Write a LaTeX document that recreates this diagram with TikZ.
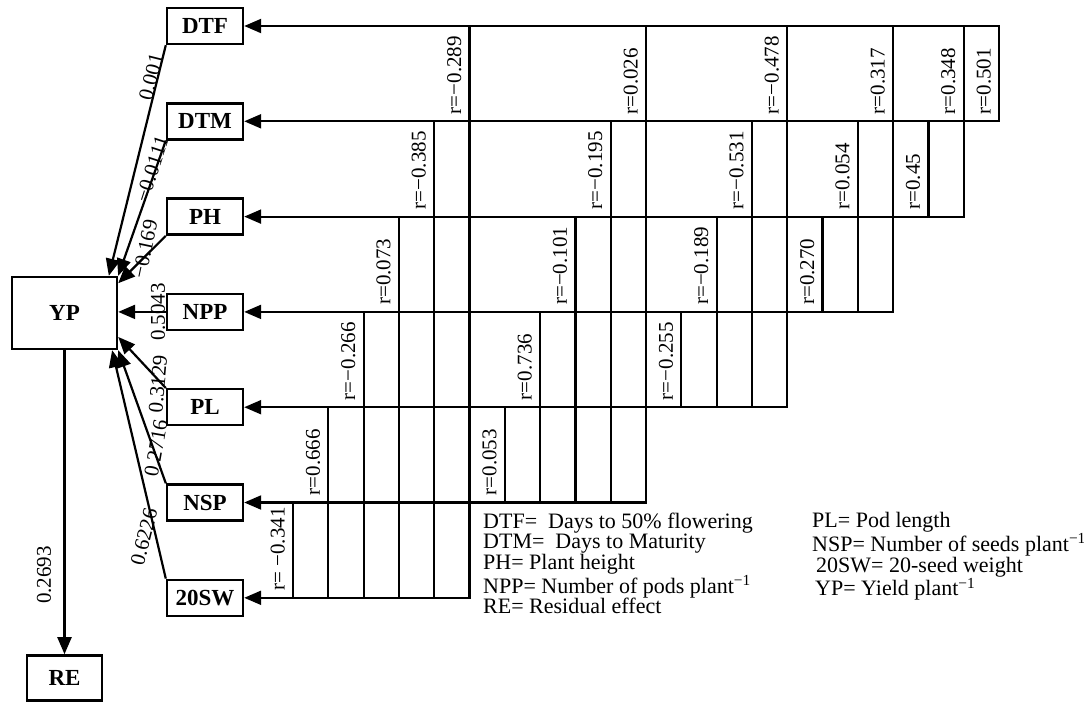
\documentclass[tikz,border=0pt]{standalone}
\usepackage{fontspec}
\setmainfont{Liberation Serif}
\usetikzlibrary{arrows.meta,positioning,calc}
\newcommand\boxfont{\fontsize{23}{23}\selectfont\bfseries}
\newcommand\numfont{\fontsize{21}{21}\selectfont}
\newcommand\keyfont{\fontsize{22}{20.75}\selectfont}

\begin{document}
\begin{tikzpicture}[x=1pt,y=-1pt,
  node distance=56.9pt,
  var/.style={draw,line width=2.4pt,minimum width=76pt,minimum height=36pt,inner sep=0pt,font=\boxfont},
  link/.style={line width=2.2pt,line cap=rect},
  arrow/.style={line width=2.2pt,-{Triangle[length=17pt,width=14pt]}},
  coef/.style={inner sep=0pt,font=\numfont},
  rval/.style={inner sep=0pt,font=\numfont,rotate=90,anchor=south west},
  key/.style={inner sep=0pt,align=left,anchor=north west,font=\keyfont}
]
\useasboundingbox (0,0) rectangle (1084,702);
% characters
\node[var] (DTF) at (205,26) {DTF};
\node[var,below=of DTF] (DTM) {DTM};
\node[var,below=of DTM] (PH) {PH};
\node[var,below=of PH] (NPP) {NPP};
\node[var,below=of NPP] (PL) {PL};
\node[var,below=of PL] (NSP) {NSP};
\node[var,below=of NSP] (SW) {20SW};
\node[var,minimum width=105pt,minimum height=72pt] (YP) at (64.5,313) {YP};
\node[var,minimum width=75pt,minimum height=45pt,below=304pt of YP] (RE) {RE};

% direct effects
\draw[arrow] (DTF.south west) -- (YP.40);
\draw[arrow] (DTM.south west) -- (YP.north east);
\draw[arrow] (PH.south west) -- (YP.29);
\draw[arrow] (NPP.west) -- (NPP.west -| YP.east);
\draw[arrow] (PL.north west) -- (YP.-24);
\draw[arrow] (NSP.north west) -- (YP.south east);
\draw[arrow] (SW.north west) -- (YP.-38);
\draw[arrow] (YP.south) -- (RE.north);
\node[coef,rotate=76] (pDTF) at (151,77) {0.001};
\node[coef,rotate=72] (pDTM) at (152,169) {−0.0111};
\node[coef,rotate=78] (pPH) at (145,249) {−0.169};
\node[coef,rotate=90] (pNPP) at (158,312) {0.5043};
\node[coef,rotate=85] (pPL) at (158,384) {0.3129};
\node[coef,rotate=80] (pNSP) at (156,448) {0.2716};
\node[coef,rotate=76] (pSW) at (144,537) {0.6226};
\node[coef,rotate=90] (pRE) at (44,575) {0.2693};

% correlations
\foreach \col in {0,...,20}
  \coordinate (c\col) at ({293+35.3*\col},0);
\foreach \v/\col in {DTF/20,DTM/20,PH/19,NPP/17,PL/14,NSP/10,SW/5}
  \draw[arrow] (\v -| c\col) -- (\v.east);
\foreach \col/\src/\tgt/\nxt/\val in {
  0/NSP/SW/SW/{r= −0.341}, 1/PL/SW/NSP/{r=0.666}, 2/NPP/SW/PL/{r=−0.266},
  3/PH/SW/NPP/{r=0.073}, 4/DTM/SW/PH/{r=−0.385}, 5/DTF/SW/DTM/{r=−0.289},
  6/PL/NSP/NSP/{r=0.053}, 7/NPP/NSP/PL/{r=0.736}, 8/PH/NSP/NPP/{r=−0.101},
  9/DTM/NSP/PH/{r=−0.195}, 10/DTF/NSP/DTM/{r=0.026},
  11/NPP/PL/PL/{r=−0.255}, 12/PH/PL/NPP/{r=−0.189}, 13/DTM/PL/PH/{r=−0.531},
  14/DTF/PL/DTM/{r=−0.478},
  15/PH/NPP/NPP/{r=0.270}, 16/DTM/NPP/PH/{r=0.054}, 17/DTF/NPP/DTM/{r=0.317},
  18/DTM/PH/PH/{r=0.45}, 19/DTF/PH/DTM/{r=0.348},
  20/DTF/DTM/DTM/{r=0.501}}{
  \draw[link] (c\col |- \src) -- (c\col |- \tgt);
  \node[rval] (r\col) at ($(c\col |- \nxt)+(-8,-7)$) {\val};
}

% key
\node[key] (keyL) at (483,512.5) {DTF=\ \ Days to 50\% flowering\\DTM=\ \ Days to Maturity\\PH= Plant height\\NPP= Number of pods plant\textsuperscript{−1}\\RE= Residual effect};
\node[key] (keyR) at (812,512.5) {PL= Pod length\\NSP= Number of seeds plant\textsuperscript{−1}\\\hspace*{4pt}20SW= 20-seed weight\\\hspace*{3pt}YP= Yield plant\textsuperscript{−1}};
\end{tikzpicture}
\end{document}
